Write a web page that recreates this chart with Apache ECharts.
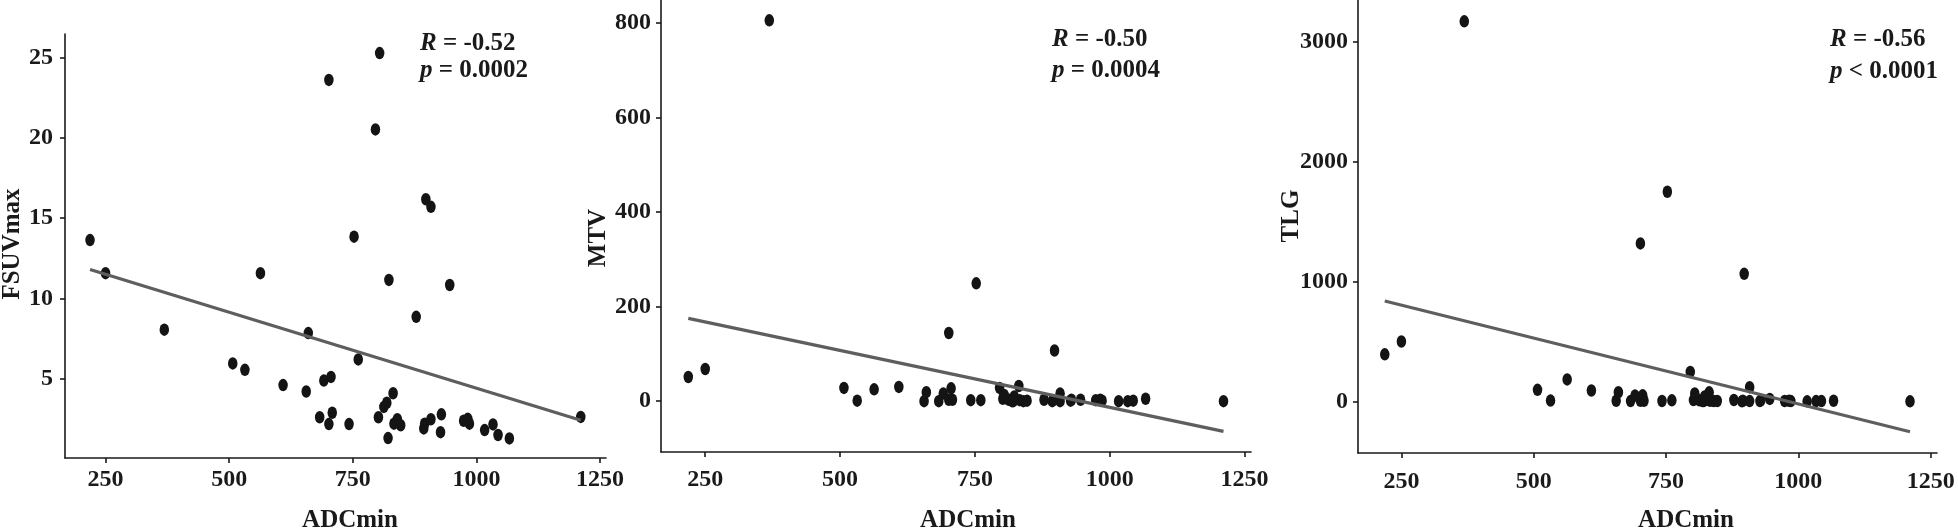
<!DOCTYPE html>
<html>
<head>
<meta charset="utf-8">
<script src="https://cdn.jsdelivr.net/npm/echarts@6/dist/echarts.min.js"></script>
<style>
html,body{margin:0;padding:0;background:#fff;}
#c{width:1958px;height:530px;}
</style>
</head>
<body>
<div id="c"></div>
<script>
// ---- data ----
const adcMin = [218.6, 250, 368.8, 507.2, 531.8, 563.2, 609, 655.8, 660, 683, 691.4, 701.6, 701.6, 705.9, 708.4, 742.4, 752.5, 761, 795.8, 801.8, 804.3, 812.8, 818.8, 821.3, 823, 831.5, 833.2, 840, 846.8, 878.2, 893.5, 895.2, 897.7, 908, 908, 927.4, 929.1, 946, 974.1, 982.5, 985.9, 1016.6, 1033.5, 1043.7, 1066.6, 1211];
const fsuvMax = [13.63, 11.57, 8.05, 5.95, 5.55, 11.57, 4.6, 4.2, 7.84, 2.6, 4.88, 23.6, 2.17, 5.11, 2.88, 2.17, 13.84, 6.2, 20.52, 2.6, 25.27, 3.24, 3.5, 1.3, 11.15, 4.09, 2.2, 2.47, 2.1, 8.85, 1.9, 2.2, 16.17, 15.7, 2.47, 1.67, 2.78, 10.83, 2.38, 2.5, 2.2, 1.8, 2.15, 1.49, 1.28, 2.62];
const mtv = [51, 68, 805, 28, 1, 25, 30, 0, 19, 0, 16, 144, 3, 27, 3, 2, 249, 2, 28, 5, 13, 3, 0, 0, 10, 32, 2, 0, 1, 3, 0, 2, 107, 16, 0, 1, 3, 3, 2, 3, 1, 0, 0, 1, 5, 0];
const tlg = [392, 499, 3169, 96, 6, 183, 90, 5, 76, 2, 48, 1317, 5, 50, 5, 3, 1748, 8, 245, 10, 65, 8, 3, 2, 40, 75, 4, 3, 3, 11, 0, 5, 1063, 118, 2, 2, 8, 20, 3, 5, 2, 0, 2, 2, 5, 0];
// fitted regression line end points (x at min / max ADCmin)
const fitX = [218.6, 1211];
const fitFSUV = [11.8, 2.41];
const fitMTV = [175, -64];
const fitTLG = [837, -254];
const xTicks = [250, 500, 750, 1000, 1250];
const yTicksFSUV = [5, 10, 15, 20, 25];
const yTicksMTV = [0, 200, 400, 600, 800];
const yTicksTLG = [0, 1000, 2000, 3000];
const statsText = [['-0.52', '= 0.0002'], ['-0.50', '= 0.0004'], ['-0.56', '< 0.0001']];
const yNames = ['FSUVmax', 'MTV', 'TLG'];
const xName = 'ADCmin';

const FONT = '"Liberation Serif", "Times New Roman", serif';
const ink = '#1a1a1a';

const grids = [
  {left: 65, top: 34, width: 541, height: 424},
  {left: 661, top: 0, width: 590, height: 452},
  {left: 1358, top: 0, width: 579, height: 453}
];
const yRanges = [[0.06, 26.46], [-107.5, 848], [-431, 3347]];
const yTickSets = [yTicksFSUV, yTicksMTV, yTicksTLG];
const xLabelMargins = [10, 16, 17];
const yLabelMargins = [12, 10, 10];
const ySeries = [fsuvMax, mtv, tlg];
const fits = [fitFSUV, fitMTV, fitTLG];

const axisLine = {show: true, onZero: false, lineStyle: {color: ink, width: 1.6}};
const axisTickBase = {show: true, length: 5, lineStyle: {color: ink, width: 1.6}};
const labelBase = {color: ink, fontFamily: FONT, fontWeight: 'bold', fontSize: 24, formatter: v => String(v)};

const xAxis = grids.map((g, i) => ({
  type: 'value', gridIndex: i, min: 168, max: 1262,
  axisLine, axisTick: Object.assign({customValues: xTicks}, axisTickBase),
  axisLabel: Object.assign({customValues: xTicks, margin: xLabelMargins[i]}, labelBase),
  splitLine: {show: false}
}));
const yAxis = grids.map((g, i) => ({
  type: 'value', gridIndex: i, min: yRanges[i][0], max: yRanges[i][1],
  axisLine, axisTick: Object.assign({customValues: yTickSets[i]}, axisTickBase),
  axisLabel: Object.assign({customValues: yTickSets[i], margin: yLabelMargins[i]}, labelBase),
  splitLine: {show: false}
}));

const series = [];
grids.forEach((g, i) => {
  series.push({
    type: 'line', xAxisIndex: i, yAxisIndex: i,
    data: fitX.map((x, k) => [x, fits[i][k]]),
    symbol: 'none', lineStyle: {color: '#5e5e5e', width: 3.2}, z: 3, silent: true
  });
  series.push({
    type: 'scatter', xAxisIndex: i, yAxisIndex: i,
    data: adcMin.map((x, k) => [x, ySeries[i][k]]),
    symbol: 'circle', symbolSize: [9.5, 12.5],
    itemStyle: {color: '#141414', opacity: 1}, z: 2, silent: true
  });
});

const titleFont = {fontFamily: FONT, fontWeight: 'bold', fontSize: 25, fill: ink};
const yTitlePos = [[13, 244], [599, 238], [1292, 216]];
const xTitlePos = [[350, 521], [968, 521], [1686, 521]];
const statPos = [[420, 44, 71], [1052, 40, 71], [1830, 40, 72]];

const graphic = [];
yNames.forEach((n, i) => {
  graphic.push({type: 'text', x: yTitlePos[i][0], y: yTitlePos[i][1], rotation: Math.PI / 2,
    style: Object.assign({text: n, textAlign: 'center', textVerticalAlign: 'middle'}, titleFont)});
  graphic.push({type: 'text', x: xTitlePos[i][0], y: xTitlePos[i][1],
    style: Object.assign({text: xName, textAlign: 'center', textVerticalAlign: 'middle'}, titleFont)});
  const rich = {
    it: {fontFamily: FONT, fontWeight: 'bold', fontStyle: 'italic', fontSize: 25, fill: ink},
    n: {fontFamily: FONT, fontWeight: 'bold', fontSize: 25, fill: ink}
  };
  graphic.push({type: 'text', x: statPos[i][0], y: statPos[i][1],
    style: {text: '{it|R}{n| = ' + statsText[i][0] + '}', rich, textAlign: 'left', textVerticalAlign: 'middle',
      fontFamily: FONT, fontSize: 25, fontWeight: 'bold', fill: ink}});
  graphic.push({type: 'text', x: statPos[i][0], y: statPos[i][2],
    style: {text: '{it|p}{n| ' + statsText[i][1] + '}', rich, textAlign: 'left', textVerticalAlign: 'middle',
      fontFamily: FONT, fontSize: 25, fontWeight: 'bold', fill: ink}});
});

const chart = echarts.init(document.getElementById('c'), null, {renderer: 'canvas'});
chart.setOption({
  animation: false,
  backgroundColor: '#fff',
  grid: grids.map(g => Object.assign({containLabel: false}, g)),
  xAxis, yAxis, series, graphic
});
</script>
</body>
</html>
